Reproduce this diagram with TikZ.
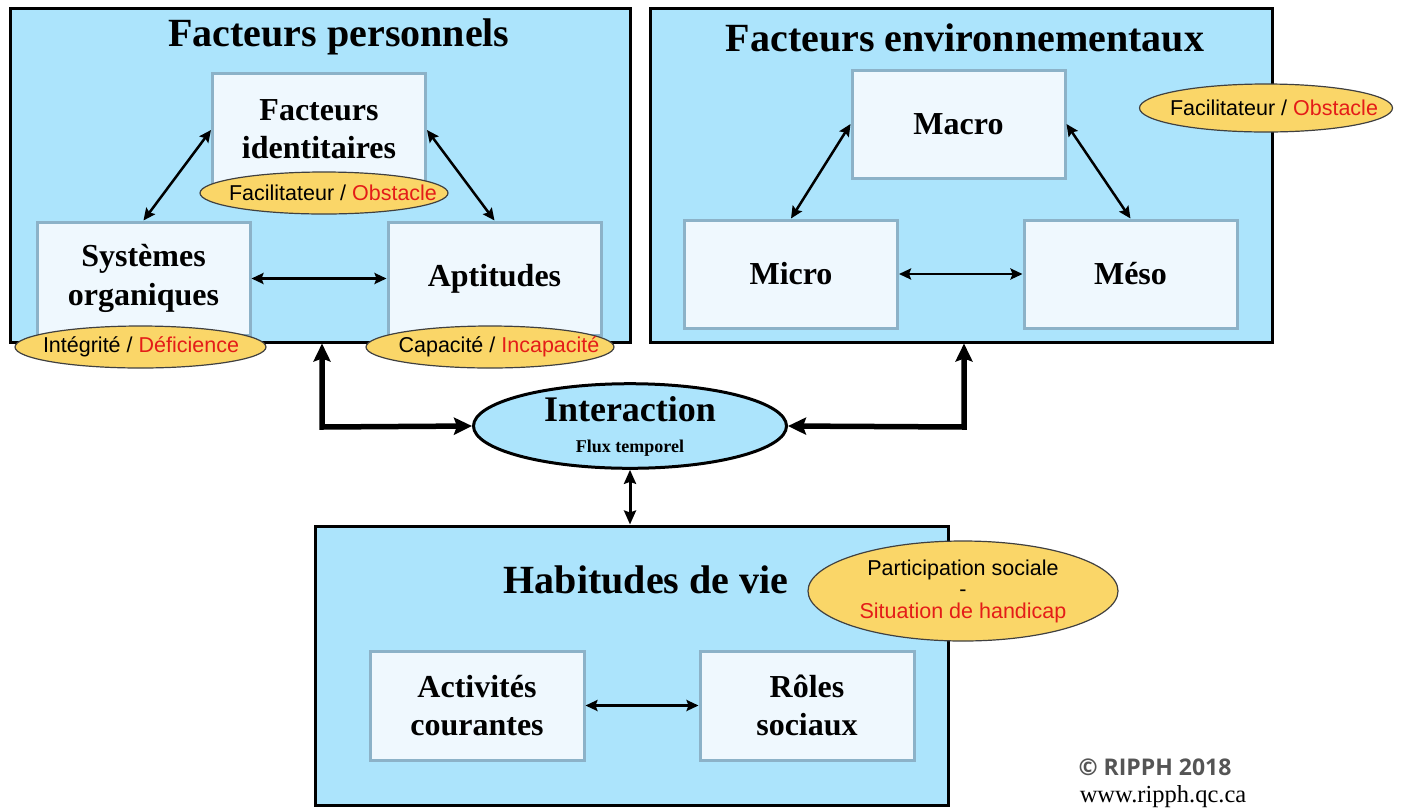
\documentclass[tikz,border=0pt]{standalone}
\usepackage{fontspec}
\setmainfont{Liberation Serif}
\setsansfont{Liberation Sans}
\newfontfamily\droitfont{Open Sans}
\usetikzlibrary{arrows.meta,shapes.geometric}
\definecolor{fondbleu}{RGB}{172,228,252}
\definecolor{boitefond}{RGB}{239,248,254}
\definecolor{boitetrait}{RGB}{140,178,200}
\definecolor{jaune}{RGB}{250,214,104}
\definecolor{rouge}{RGB}{228,28,24}
\definecolor{grisc}{RGB}{85,85,85}

\begin{document}
\begin{tikzpicture}[x=1pt,y=-1pt,
    cadre/.style={draw=black, line width=3pt, fill=fondbleu, inner sep=0pt},
    titre/.style={font=\fontsize{40}{44}\selectfont\bfseries},
    boite/.style={draw=boitetrait, line width=3pt, fill=boitefond, inner sep=0pt,
        minimum width=213, minimum height=110, align=center,
        font=\fontsize{32}{38.5}\selectfont\bfseries},
    ovale/.style={ellipse, draw=black!75, line width=1.2pt, fill=jaune, inner sep=0pt},
    ovaltexte/.style={font=\sffamily\fontsize{21.5}{22}\selectfont},
    fleche/.style={line width=2.5pt, {Stealth[length=12pt,width=11pt,inset=2pt]}-{Stealth[length=12pt,width=11pt,inset=2pt]}},
    grosse/.style={line width=5.5pt, {Stealth[length=18pt,width=17pt,inset=3pt]}-{Stealth[length=18pt,width=17pt,inset=3pt]}},
    moyenne/.style={line width=3pt, {Stealth[length=14pt,width=12pt,inset=2pt]}-{Stealth[length=14pt,width=12pt,inset=2pt]}}]
\useasboundingbox (0,0) rectangle (1403,807);

% les trois grands cadres
\node[cadre, minimum width=620, minimum height=334] (perso) at (320,175) {};
\node[cadre, minimum width=622, minimum height=334] (env) at (961,175) {};
\node[cadre, minimum width=633, minimum height=279] (habit) at (631.5,665.5) {};
\node[titre] (tperso) at (339,37) {Facteurs personnels};
\node[titre] (tenv) at (965,38) {Facteurs environnementaux};
\node[titre] (thabit) at (646,580) {Habitudes de vie};

% facteurs personnels
\node[boite, minimum height=112] (ident) at (319,129) {Facteurs\\identitaires};
\node[boite, minimum height=113] (syst) at (143.5,278.5) {Systèmes\\organiques};
\node[boite, minimum height=113] (apti) at (494.5,278.5) {Aptitudes};
\draw[fleche] (ident.west |- 0,130) -- (syst.north);
\draw[fleche] (ident.east |- 0,130) -- (apti.north);
\draw[fleche] (syst.east) -- (apti.west);
\node[ovale, minimum width=248, minimum height=42] (eident) at (324,193) {};
\node[ovaltexte] (tident) at (333,193) {Facilitateur / \textcolor{rouge}{Obstacle}};
\node[ovale, minimum width=251, minimum height=42] (esyst) at (140.5,347) {};
\node[ovaltexte] (tsyst) at (141,347) {Intégrité / \textcolor{rouge}{Déficience}};
\node[ovale, minimum width=248, minimum height=42] (eapti) at (490,347) {};
\node[ovaltexte] (tapti) at (499,347) {Capacité / \textcolor{rouge}{Incapacité}};

% facteurs environnementaux
\node[boite, minimum height=108] (macro) at (958.5,124) {Macro};
\node[boite, minimum height=108] (micro) at (791,274) {Micro};
\node[boite, minimum height=108] (meso) at (1130.5,274) {Méso};
\draw[fleche] (macro.west) -- (micro.north);
\draw[fleche] (macro.east) -- (meso.north);
\draw[fleche] (micro.east) -- (meso.west);
\node[ovale, minimum width=253, minimum height=48] (eenv) at (1266,108) {};
\node[ovaltexte] (tenvo) at (1274,108) {Facilitateur / \textcolor{rouge}{Obstacle}};

% interaction
\node[ellipse, draw=black, line width=3pt, fill=fondbleu, inner sep=0pt,
    minimum width=313, minimum height=84, align=center,
    font=\fontsize{36}{40}\selectfont\bfseries] (inter) at (630,426)
    {Interaction\\[-9pt]{\fontsize{18}{20}\selectfont Flux temporel}};
\coordinate (gauche) at (322,427);
\coordinate (droite) at (964,427);
\draw[grosse] (perso.south -| gauche) -- (gauche) -- (inter.west);
\draw[grosse] (env.south -| droite) -- (droite) -- (inter.east);
\draw[moyenne] (inter.south) -- (inter.south |- habit.north);

% habitudes de vie
\node[ovale, minimum width=310, minimum height=100, align=center,
    font=\sffamily\fontsize{21.5}{21.5}\selectfont] (epart) at (963,591)
    {Participation sociale\\-\\\textcolor{rouge}{Situation de handicap}};
\node[boite, minimum width=214, minimum height=109] (activ) at (477,705.5) {Activités\\courantes};
\node[boite, minimum width=214, minimum height=109] (roles) at (807,705.5) {Rôles\\sociaux};
\draw[fleche] (activ.east) -- (roles.west);

% source
\node[font=\droitfont\bfseries\fontsize{23}{25}\selectfont, text=grisc] (copy) at (1155,767) {© RIPPH 2018};
\node[font=\fontsize{24.5}{26}\selectfont] (site) at (1163,797) {www.ripph.qc.ca};
\end{tikzpicture}
\end{document}
